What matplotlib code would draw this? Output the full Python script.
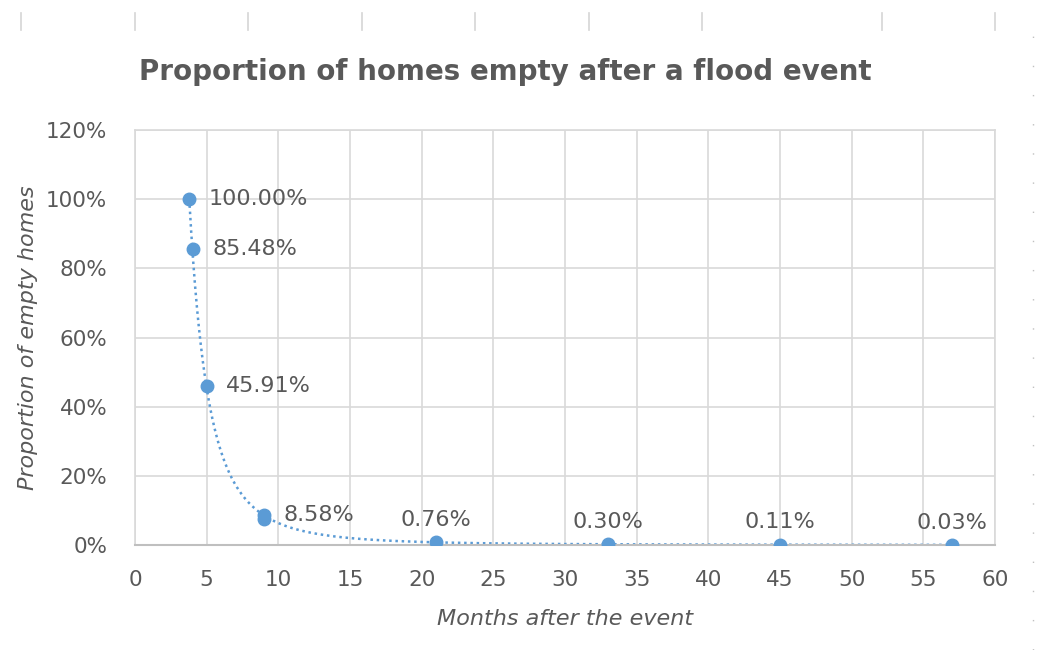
import matplotlib
matplotlib.use("Agg")
import matplotlib.pyplot as plt
from matplotlib.lines import Line2D
from matplotlib.ticker import PercentFormatter
import numpy as np

# data
months = [3.75, 4.05, 5, 9, 9, 21, 33, 45, 57]
empty_share = [100.0, 85.48, 45.91, 8.58, 7.4, 0.76, 0.30, 0.11, 0.03]
point_labels = ["100.00%", "85.48%", "45.91%", "8.58%", "", "0.76%", "0.30%", "0.11%", "0.03%"]
label_side = ["right", "right", "right", "right", "", "above", "above", "above", "above"]

blue = "#5b9bd5"
grey_text = "#595959"
grid_col = "#d9d9d9"

plt.rcParams["font.family"] = ["DejaVu Sans"]

fig = plt.figure(figsize=(10.37, 6.5), dpi=100)
ax = fig.add_axes([135 / 1037, 1 - 545 / 650, 860 / 1037, 415 / 650])

# power trendline (like excel's), drawn from the first point onward
lx = np.log(np.array(months))
ly = np.log(np.array(empty_share))
b, ln_a = np.polyfit(lx, ly, 1)
x_start = (empty_share[0] / np.exp(ln_a)) ** (1 / b)
xs = np.linspace(max(x_start, min(months)), max(months), 400)
ax.plot(xs, np.exp(ln_a) * xs ** b, color=blue, lw=1.8, linestyle=(0, (1, 1.5)), zorder=2)

ax.plot(months, empty_share, "o", color=blue, ms=9, zorder=3)

for x, y, lab, side in zip(months, empty_share, point_labels, label_side):
    if not lab:
        continue
    if side == "right":
        ax.annotate(lab, (x, y), xytext=(14, 0), textcoords="offset points",
                    ha="left", va="center", fontsize=16, color=grey_text)
    else:
        ax.annotate(lab, (x, y), xytext=(0, 16), textcoords="offset points",
                    ha="center", va="center", fontsize=16, color=grey_text)

ax.set_xlim(0, 60)
ax.set_ylim(0, 120)
ax.set_xticks(range(0, 61, 5))
ax.set_yticks(range(0, 121, 20))
ax.yaxis.set_major_formatter(PercentFormatter(decimals=0))
ax.grid(True, color=grid_col, lw=1.2)
ax.set_axisbelow(True)
ax.tick_params(length=0, labelsize=15.5, labelcolor=grey_text)
ax.tick_params(axis="y", pad=20)
ax.tick_params(axis="x", pad=18)
for s in ["top", "right", "left"]:
    ax.spines[s].set_color(grid_col)
    ax.spines[s].set_linewidth(1.2)
ax.spines["bottom"].set_color("#bfbfbf")
ax.spines["bottom"].set_linewidth(1.5)

ax.set_xlabel("Months after the event", fontsize=16, style="italic", color=grey_text, labelpad=14)
ax.set_ylabel("Proportion of empty homes", fontsize=16, style="italic", color=grey_text, labelpad=6)

fig.text(505 / 1037, 1 - 72 / 650, "Proportion of homes empty after a flood event",
         ha="center", va="center", fontsize=20, fontweight="bold", color=grey_text)

# spreadsheet column marks at the top edge and the dotted border on the right
for px in [21, 135, 248, 362, 475, 589, 702, 882, 995]:
    fig.add_artist(Line2D([px / 1037] * 2, [1 - 13 / 650, 1 - 30 / 650],
                          color="#d5d5d5", lw=1.2))
fig.add_artist(Line2D([1033 / 1037] * 2, [0, 1 - 35 / 650], color="#c0c0c0",
                      lw=1, linestyle=(0, (1, 20))))

fig.savefig("out.png", dpi=100)
